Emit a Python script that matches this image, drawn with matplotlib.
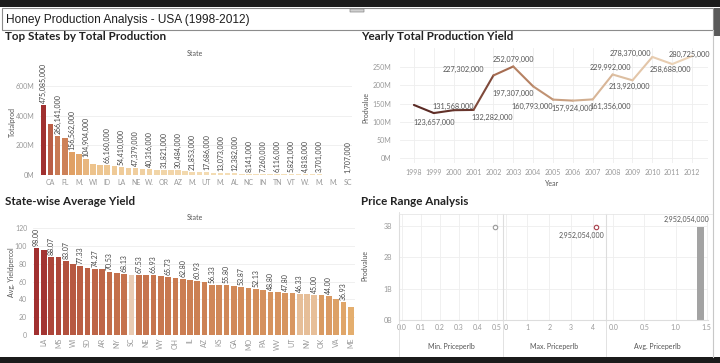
import matplotlib.pyplot as plt
import numpy as np
from matplotlib.collections import LineCollection
from matplotlib.colors import LinearSegmentedColormap, Normalize, to_rgb
from matplotlib.patches import Rectangle, FancyBboxPatch
from matplotlib.lines import Line2D
from matplotlib.ticker import FuncFormatter

W, H = 720, 363

TITLE = "Honey Production Analysis - USA (1998-2012)"

# Top states by total production (descending); only every other name is shown
PROD_STATES = ["ND", "CA", "SD", "FL", "MT", "M.", "TX", "WI", "NY", "ID", "AR",
               "LA", "MS", "NE", "GA", "W.", "IL", "OR", "HI", "AZ", "KS", "M.",
               "CO", "UT", "PA", "M.", "OH", "AL", "IA", "NC", "NJ", "IN", "VA",
               "TN", "KY", "VT", "NV", "W.", "OK", "M.", "NM", "M.", "ME", "SC"]
PROD_TOTALS = [475085000, 347000000, 266141000, 247000000, 156562000, 140000000,
               104904000, 76000000, 70000000, 66160000, 58000000, 54410000,
               50000000, 47379000, 43000000, 40316000, 33000000, 31821000,
               31000000, 30484000, 24000000, 21853000, 19000000, 17686000,
               15000000, 13073000, 12700000, 12382000, 9500000, 8141000,
               7600000, 7260000, 6500000, 6116000, 5900000, 5821000, 5200000,
               4818000, 4200000, 3701000, 2600000, 2100000, 1900000, 1707000]
PROD_LABELED = [0, 2, 4, 6] + list(range(9, 40, 2)) + [43]

# Yearly production value
YEARS = list(range(1998, 2013))
YEAR_PRODVALUE = [146000000, 123657000, 131568000, 132282000, 227302000,
                  252079000, 197307000, 160793000, 157924000, 161356000,
                  229992000, 213920000, 278370000, 258688000, 280725000]

# State-wise average yield per colony (descending)
YIELD_STATES = ["HI", "LA", "ND", "MS", "FL", "WI", "MN", "SD", "MT", "AR", "TX",
                "NY", "CA", "SC", "ID", "NE", "OR", "WY", "WA", "OH", "MI", "IL",
                "IN", "AZ", "AL", "KS", "TN", "GA", "NC", "MO", "IA", "PA", "VT",
                "WV", "CO", "UT", "NM", "NV", "NJ", "OK", "KY", "VA", "MD", "ME"]
YIELD_AVG = [98.00, 96.0, 88.07, 87.5, 83.07, 79.5, 77.33, 75.8, 74.27, 74.0,
             70.53, 69.4, 68.13, 68.0, 67.53, 67.3, 66.93, 66.2, 65.73, 63.8,
             62.80, 61.5, 60.93, 59.5, 56.33, 56.1, 55.80, 55.0, 53.87, 53.3,
             52.13, 50.3, 48.80, 48.5, 47.80, 46.9, 46.33, 45.8, 45.00, 44.5,
             44.00, 40.3, 36.93, 31.5]

# Price range
MIN_PRICE = 0.49
MAX_PRICE = 4.15
AVG_PRICE = 1.40
TOTAL_PRODVALUE = 2952054000

# ---- styles ----
PROD_CMAP = LinearSegmentedColormap.from_list("prod", [
    (0.0, "#f5e2bd"), (0.15, "#edc48e"), (0.33, "#e0a064"),
    (0.56, "#c97b55"), (0.75, "#b85a44"), (1.0, "#a0302f")])
YIELD_CMAP = LinearSegmentedColormap.from_list("yld", [
    (0.0, "#e4ae6e"), (0.5, "#c97a50"), (1.0, "#a13030")])
LINE_CMAP = LinearSegmentedColormap.from_list("line", [
    (0.0, "#5a2a24"), (0.2, "#6e3a30"), (0.3, "#a56a50"), (0.4, "#b98666"),
    (0.6, "#d0ac8e"), (0.8, "#e0c2a4"), (1.0, "#ecd4b8")])
YIELD_FADE = {"SC": 0.72, "NM": 0.45, "NV": 0.45, "NJ": 0.45}
# label offsets (pixels) for the yearly labels, None = no label
YEAR_LABEL_OFFSET = [None, (0, -9), (0, 4), (19, -8), (-30, 6), (0, 7),
                     (-20, -7), (-21, -7), (-1, -7.5), (17, -7), (-2, 7),
                     (-3, -6), (-22, 3), (-2, -5), (-3, 2)]

GRID = "#eeeeee"
TICK = "#999999"
LABEL = "#555555"

plt.rcParams['font.family'] = ['Lato', 'DejaVu Sans']

fig = plt.figure(figsize=(W / 100, H / 100), dpi=100)


def px_axes(x0, y0, x1, y1):
    return fig.add_axes([x0 / W, 1 - y1 / H, (x1 - x0) / W, (y1 - y0) / H])


def px_text(x, y, s, **kw):
    fig.text(x / W, 1 - y / H, s, **kw)


def px_rect(x0, y0, x1, y1, **kw):
    fig.patches.append(Rectangle((x0 / W, 1 - y1 / H), (x1 - x0) / W, (y1 - y0) / H,
                                 transform=fig.transFigure, figure=fig, **kw))


def px_line(xs, ys, **kw):
    fig.add_artist(Line2D([x / W for x in xs], [1 - y / H for y in ys],
                          transform=fig.transFigure, **kw))


def clean(ax):
    for s in ax.spines.values():
        s.set_visible(False)
    ax.tick_params(length=0, labelsize=5, labelcolor=TICK)
    ax.set_axisbelow(True)


def fmt_m(v, pos):
    return "%dM" % round(v / 1e6)


# ---- dashboard frame ----
px_rect(0, 0, W, 6.5, color="#1b1b1b", lw=0)
px_rect(0, 357, W, H, color="#1b1b1b", lw=0)
px_rect(2, 8, 713, 30, facecolor="white", edgecolor="#8c8c8c", lw=0.8)
fig.patches.append(FancyBboxPatch((350 / W, 1 - 12 / H), 14 / W, 3 / H,
                                  boxstyle="round,pad=0", transform=fig.transFigure,
                                  figure=fig, facecolor="#cfcfcf", edgecolor="#888", lw=0.5))
px_rect(714, 8, 720, 36, color="#5a5a5a", lw=0)
px_line([713, 713], [30, 357], color="#c8c8c8", lw=0.8)
px_text(6, 19.5, TITLE, family=['Liberation Sans Narrow', 'Liberation Sans', 'DejaVu Sans'],
        size=8.6, color="#1e1e1e", va="center", ha="left")

for tx, ty, t in [(5, 37, "Top States by Total Production"),
                  (361, 37, "Yearly Total Production Yield"),
                  (5, 202, "State-wise Average Yield"),
                  (361, 202, "Price Range Analysis")]:
    px_text(tx, ty, t, size=8.4, weight="bold", color="#222", va="center")

# ---- top states by total production ----
ax1 = px_axes(40, 64, 351.5, 175)
clean(ax1)
x = np.arange(len(PROD_STATES))
norm = Normalize(0, max(PROD_TOTALS))
ax1.bar(x, PROD_TOTALS, width=0.78, color=[PROD_CMAP(norm(v)) for v in PROD_TOTALS])
for i in PROD_LABELED:
    ax1.annotate("{:,}".format(PROD_TOTALS[i]), (x[i], PROD_TOTALS[i]), xytext=(0, 2),
                 textcoords="offset pixels", rotation=90, ha="center", va="bottom",
                 size=5, color="#444")
ax1.set_xlim(-0.5, len(PROD_STATES) - 0.5)
ax1.set_ylim(0, 750e6)
ax1.set_yticks([0, 200e6, 400e6, 600e6])
ax1.yaxis.set_major_formatter(FuncFormatter(fmt_m))
ax1.set_xticks(x[1::2])
ax1.set_xticklabels(PROD_STATES[1::2])
ax1.tick_params(axis="x", pad=3)
ax1.tick_params(axis="y", pad=4)
ax1.grid(axis="y", color=GRID, lw=0.6)
px_text(195, 53, "State", size=5, color=LABEL, ha="center", va="center")
px_text(12, 122, "Totalprod", size=5, color=LABEL, rotation=90, ha="center", va="center")

# ---- yearly total production ----
ax2 = px_axes(400, 48, 708, 163)
clean(ax2)
pts = np.column_stack([YEARS, YEAR_PRODVALUE])
segs = np.stack([pts[:-1], pts[1:]], axis=1)
seg_pos = np.linspace(0, 1, len(segs))
ax2.add_collection(LineCollection(segs, colors=[LINE_CMAP(p) for p in seg_pos], lw=1.5,
                                  capstyle="round", joinstyle="round"))
for yr, v, off in zip(YEARS, YEAR_PRODVALUE, YEAR_LABEL_OFFSET):
    if off is None:
        continue
    ax2.annotate("{:,}".format(v), (yr, v), xytext=off, textcoords="offset pixels",
                 ha="center", va="center", size=5.3, color="#555")
ax2.set_xlim(1997.3, 2012.8)
ax2.set_ylim(-14e6, 303e6)
ax2.set_xticks(YEARS)
ax2.set_yticks(np.arange(0, 251e6, 50e6))
ax2.yaxis.set_major_formatter(FuncFormatter(fmt_m))
ax2.grid(color=GRID, lw=0.6)
ax2.tick_params(axis="y", pad=6)
ax2.tick_params(axis="x", pad=4)
px_text(552, 183, "Year", size=5, color=LABEL, ha="center", va="center")
px_text(366, 107, "Prodvalue", size=5, color=LABEL, rotation=90, ha="center", va="center")

# ---- state-wise average yield ----
ax3 = px_axes(32.8, 226, 354.5, 335)
clean(ax3)
xs = np.arange(len(YIELD_STATES))
ynorm = Normalize(min(YIELD_AVG), max(YIELD_AVG))
cols = []
for st, v in zip(YIELD_STATES, YIELD_AVG):
    c = np.array(to_rgb(YIELD_CMAP(ynorm(v))))
    f = YIELD_FADE.get(st, 0)
    cols.append(c + (np.array([0.97, 0.93, 0.86]) - c) * f)
ax3.bar(xs, YIELD_AVG, width=0.78, color=cols)
for i in range(0, len(YIELD_AVG), 2):
    ax3.annotate("%.2f" % YIELD_AVG[i], (xs[i], YIELD_AVG[i]), xytext=(0, 2),
                 textcoords="offset pixels", rotation=90, ha="center", va="bottom",
                 size=5, color="#444")
ax3.set_xlim(-0.5, len(YIELD_STATES) - 0.5)
ax3.set_ylim(0, 122.6)
ax3.set_yticks(range(0, 121, 20))
ax3.set_xticks(xs[1::2])
ax3.set_xticklabels(YIELD_STATES[1::2], rotation=90)
ax3.tick_params(axis="x", pad=2)
ax3.tick_params(axis="y", pad=4)
ax3.grid(axis="y", color=GRID, lw=0.6)
px_text(195, 218, "State", size=5, color=LABEL, ha="center", va="center")
px_text(12, 272, "Avg. Yieldpercol", size=5, color=LABEL, rotation=90, ha="center", va="center")

# ---- price range analysis ----
panels = [(399, 503, (-0.014, 0.533), np.arange(0, 0.51, 0.1), "%.1f", "Min. Priceperlb"),
          (503, 606, (-0.12, 4.6), [0, 1, 2, 3, 4], "%d", "Max. Priceperlb"),
          (606, 708, (-0.117, 1.52), [0, 0.5, 1.0, 1.5], "%.1f", "Avg. Priceperlb")]
paxes = []
for x0, x1, xl, ticks, f, name in panels:
    ax = px_axes(x0, 214, x1, 320)
    clean(ax)
    ax.set_xlim(*xl)
    ax.set_ylim(0, 3.38e9)
    ax.set_xticks(ticks)
    ax.set_xticklabels([f % t for t in ticks])
    ax.set_yticks([0, 1e9, 2e9, 3e9])
    ax.yaxis.set_major_formatter(FuncFormatter(lambda v, p: "%dB" % round(v / 1e9)))
    ax.grid(color=GRID, lw=0.6)
    ax.tick_params(axis="x", pad=3)
    ax.tick_params(axis="y", pad=5)
    ax.spines["left"].set_visible(True)
    ax.spines["left"].set_color("#dddddd")
    ax.spines["bottom"].set_visible(True)
    ax.spines["bottom"].set_color("#dddddd")
    if paxes:
        ax.tick_params(axis="y", labelleft=False)
    px_text((x0 + x1) / 2, 347, name, size=5, color=LABEL, ha="center", va="center")
    px_line([x0, x0], [320, 356], color="#dddddd", lw=0.6)
    paxes.append(ax)
px_line([399, 399], [212, 320], color="#dddddd", lw=0.6)
px_line([399, 712], [213.5, 213.5], color="#e6e6e6", lw=0.6)

paxes[0].plot([MIN_PRICE], [TOTAL_PRODVALUE], "o", ms=3.2, mfc="none", mec="#9a9a9a", mew=0.8)
paxes[1].plot([MAX_PRICE], [TOTAL_PRODVALUE], "o", ms=3.2, mfc="none", mec="#a8404c", mew=0.8)
paxes[1].annotate("{:,}".format(TOTAL_PRODVALUE), (MAX_PRICE, TOTAL_PRODVALUE), xytext=(-15, -8),
                  textcoords="offset pixels", ha="center", va="center", size=5, color="#555")
paxes[2].bar([AVG_PRICE], [TOTAL_PRODVALUE], width=0.1, color="#a3a3a3")
paxes[2].annotate("{:,}".format(TOTAL_PRODVALUE), (AVG_PRICE, TOTAL_PRODVALUE), xytext=(9, 4),
                  textcoords="offset pixels", ha="right", va="bottom", size=5, color="#555")
px_text(365, 265, "Prodvalue", size=5, color=LABEL, rotation=90, ha="center", va="center")

fig.savefig("out.png", dpi=100)
